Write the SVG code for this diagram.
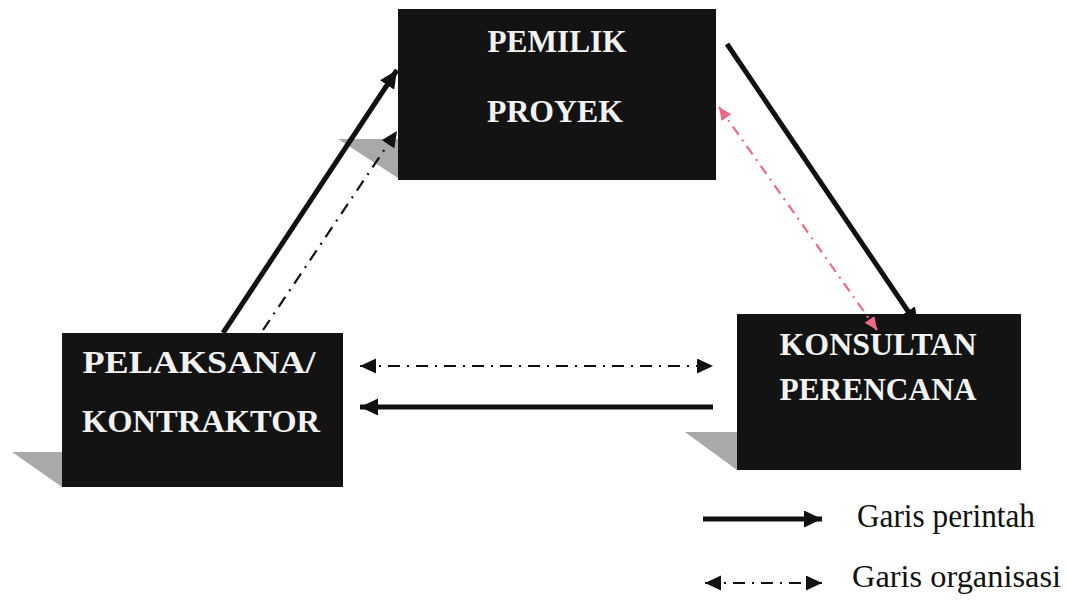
<svg xmlns="http://www.w3.org/2000/svg" width="1068" height="600" viewBox="0 0 1068 600">
  <style>
    .box { fill: #131313; }
    .shadow { fill: #a9a9a9; }
    .lbl { font-family: "Liberation Serif", "Times New Roman", serif; font-weight: bold; font-size: 31px; fill: #f2f2f2; text-anchor: middle; }
    .leg { font-family: "Liberation Serif", "Times New Roman", serif; font-size: 34px; fill: #111; }
    .cmd { stroke: #111; stroke-width: 5; fill: none; }
    .org { stroke: #111; stroke-width: 2.2; fill: none; stroke-dasharray: 12 7 2 7; }
    .pink { stroke: #ee6a86; stroke-width: 2.2; fill: none; stroke-dasharray: 10 6 2 6; }
  </style>
  <defs>
    <marker id="headBig" markerUnits="userSpaceOnUse" markerWidth="20" markerHeight="18" refX="18" refY="8.5" orient="auto">
      <path d="M0,0 L18,8.5 L0,17 z" fill="#111"/>
    </marker>
    <marker id="headOrg" markerUnits="userSpaceOnUse" markerWidth="18" markerHeight="16" refX="16" refY="7.5" orient="auto-start-reverse">
      <path d="M0,0 L16,7.5 L0,15 z" fill="#111"/>
    </marker>
    <marker id="headPink" markerUnits="userSpaceOnUse" markerWidth="15" markerHeight="14" refX="13" refY="6" orient="auto-start-reverse">
      <path d="M0,0 L13,6 L0,12 z" fill="#ee6a86"/>
    </marker>
  </defs>
  <rect width="1068" height="600" fill="#ffffff"/>

  <g id="pemilik-proyek">
    <polygon class="shadow" points="338,139 398,139 398,178"/>
    <rect class="box" x="398" y="9" width="318" height="171"/>
    <text class="lbl" x="557" y="52" textLength="139" lengthAdjust="spacingAndGlyphs">PEMILIK</text>
    <text class="lbl" x="555" y="122" textLength="136" lengthAdjust="spacingAndGlyphs">PROYEK</text>
  </g>

  <g id="pelaksana-kontraktor">
    <polygon class="shadow" points="12,452 62,452 62,487"/>
    <rect class="box" x="62" y="333" width="281" height="154"/>
    <text class="lbl" x="199" y="373" textLength="233" lengthAdjust="spacingAndGlyphs">PELAKSANA/</text>
    <text class="lbl" x="201" y="432" textLength="238" lengthAdjust="spacingAndGlyphs">KONTRAKTOR</text>
  </g>

  <g id="konsultan-perencana">
    <polygon class="shadow" points="685,432 737,432 737,470"/>
    <rect class="box" x="737" y="314" width="284" height="156"/>
    <text class="lbl" x="878" y="355" textLength="197" lengthAdjust="spacingAndGlyphs">KONSULTAN</text>
    <text class="lbl" x="878" y="400" textLength="197" lengthAdjust="spacingAndGlyphs">PERENCANA</text>
  </g>

  <g id="connectors">
    <line class="cmd" x1="223" y1="333" x2="397" y2="70" marker-end="url(#headBig)"/>
    <line class="org" x1="263" y1="330" x2="397" y2="131" marker-end="url(#headOrg)"/>
    <line class="cmd" x1="727" y1="44" x2="918" y2="326" marker-end="url(#headBig)"/>
    <line class="pink" x1="719" y1="107" x2="877" y2="330" marker-start="url(#headPink)" marker-end="url(#headPink)"/>
    <line class="org" x1="360" y1="366" x2="713" y2="366" marker-start="url(#headOrg)" marker-end="url(#headOrg)"/>
    <line class="cmd" x1="713" y1="407" x2="360" y2="407" marker-end="url(#headBig)"/>
  </g>

  <g id="legend">
    <line class="cmd" x1="703" y1="519" x2="822" y2="519" marker-end="url(#headBig)"/>
    <text class="leg" x="857" y="527" textLength="178" lengthAdjust="spacingAndGlyphs">Garis perintah</text>
    <line class="org" x1="705" y1="583" x2="822" y2="583" stroke-dasharray="10 6 2 6" marker-start="url(#headOrg)" marker-end="url(#headOrg)"/>
    <text class="leg" x="852" y="587" style="font-size:32px" textLength="209" lengthAdjust="spacingAndGlyphs">Garis organisasi</text>
  </g>
</svg>
